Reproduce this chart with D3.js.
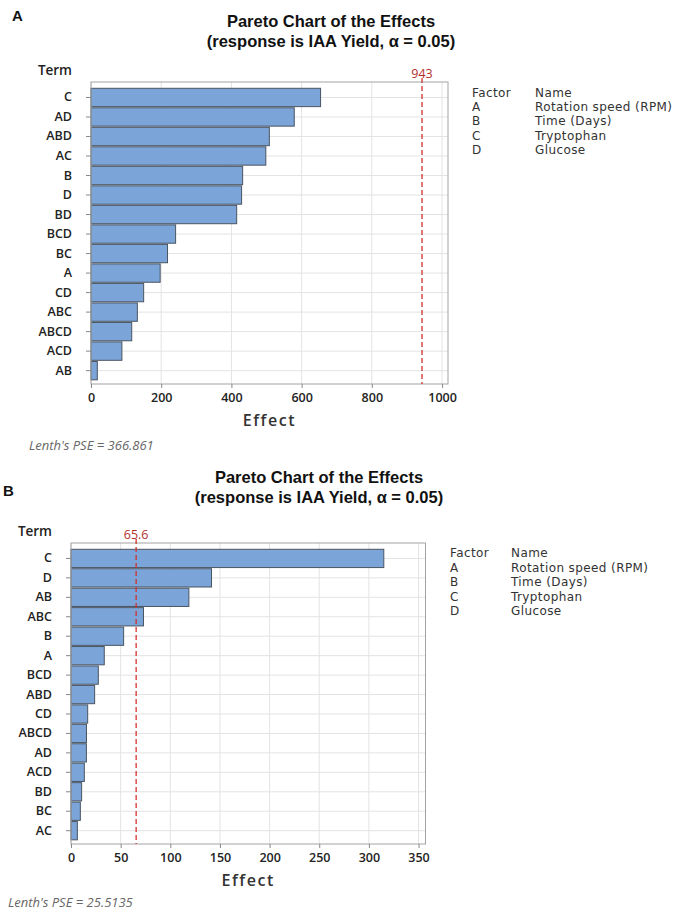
<!DOCTYPE html>
<html>
<head>
<meta charset="utf-8">
<script src="https://cdn.jsdelivr.net/npm/d3@7"></script>
<style>
  body { margin: 0; background: #fff; }
  svg { display: block; }
  .tick text { font-family: "Open Sans", sans-serif; }
</style>
</head>
<body>
<div id="chart"></div>
<script>
// Chart A values
const termsA = ["C", "AD", "ABD", "AC", "B", "D", "BD", "BCD", "BC", "A", "CD", "ABC", "ABCD", "ACD", "AB"];
const effectsA = [654, 579, 508, 498, 432, 429, 415, 241, 218, 197, 150, 132, 116, 88, 18];
const ticksA = [0, 200, 400, 600, 800, 1000];
const refA = 943;
const refLabelA = "943";
const pseA = "Lenth's PSE = 366.861";

// Chart B values
const termsB = ["C", "D", "AB", "ABC", "B", "A", "BCD", "ABD", "CD", "ABCD", "AD", "ACD", "BD", "BC", "AC"];
const effectsB = [315, 141.5, 118.7, 73, 53, 33.5, 27.5, 23.8, 16.8, 15.6, 15.5, 13.4, 10.7, 9.4, 6.4];
const ticksB = [0, 50, 100, 150, 200, 250, 300, 350];
const refB = 65.6;
const refLabelB = "65.6";
const pseB = "Lenth's PSE = 25.5135";

// Shared legend
const factors = ["A", "B", "C", "D"];
const factorNames = ["Rotation speed (RPM)", "Time (Days)", "Tryptophan", "Glucose"];
const titleLine1 = "Pareto Chart of the Effects";
const titleLine2 = "(response is IAA Yield, \u03b1 = 0.05)";

const svg = d3.select('#chart')
    .append('svg')
    .attr('width', 676)
    .attr('height', 911);

svg.append('rect').attr('width', 676).attr('height', 911).attr('fill', '#fff');

function drawPareto(cfg) {
    const g = svg.append('g');

    // panel letter and title
    g.append('text')
        .attr('x', cfg.letterX).attr('y', cfg.letterY)
        .style('font-family', '"Liberation Sans", Arial, sans-serif')
        .style('font-weight', 'bold').style('font-size', '15px')
        .attr('fill', '#111')
        .text(cfg.letter);
    [titleLine1, titleLine2].forEach((t, i) => {
        g.append('text')
            .attr('x', cfg.titleX).attr('y', cfg.titleY + i * 19.5)
            .attr('text-anchor', 'middle')
            .style('font-family', '"Liberation Sans", Arial, sans-serif')
            .style('font-weight', 'bold').style('font-size', '16.5px')
            .attr('fill', '#111')
            .text(t);
    });

    const x = d3.scaleLinear()
        .domain([0, cfg.xMax])
        .range([cfg.left, cfg.right]);
    const y = d3.scaleBand()
        .domain(cfg.terms)
        .range([cfg.top + 5.7, cfg.bottom - 3.6])
        .paddingInner(0.06)
        .paddingOuter(0.03);

    // gridlines
    g.append('g')
        .selectAll('line')
        .data(cfg.ticks)
        .enter()
        .append('line')
        .attr('x1', d => x(d)).attr('x2', d => x(d))
        .attr('y1', cfg.top).attr('y2', cfg.bottom)
        .attr('stroke', '#e3e3e3');
    g.append('g')
        .selectAll('line')
        .data(cfg.terms)
        .enter()
        .append('line')
        .attr('x1', cfg.left).attr('x2', cfg.right)
        .attr('y1', d => y(d) + y.bandwidth() / 2)
        .attr('y2', d => y(d) + y.bandwidth() / 2)
        .attr('stroke', '#e3e3e3');

    // bars
    g.append('g')
        .selectAll('rect')
        .data(cfg.effects)
        .enter()
        .append('rect')
        .attr('x', x(0))
        .attr('y', (d, i) => y(cfg.terms[i]))
        .attr('width', d => x(d) - x(0))
        .attr('height', y.bandwidth())
        .attr('fill', '#7ba4d8')
        .attr('stroke', '#4a5562')
        .attr('stroke-width', 1);

    // plot frame
    g.append('rect')
        .attr('x', cfg.left).attr('y', cfg.top)
        .attr('width', cfg.right - cfg.left)
        .attr('height', cfg.bottom - cfg.top)
        .attr('fill', 'none')
        .attr('stroke', '#a3a3a3');

    // reference line
    g.append('line')
        .attr('x1', x(cfg.ref)).attr('x2', x(cfg.ref))
        .attr('y1', cfg.top - 4).attr('y2', cfg.bottom)
        .attr('stroke', '#d2322d')
        .attr('stroke-width', 1.3)
        .attr('stroke-dasharray', '5,3');
    g.append('text')
        .attr('x', x(cfg.ref)).attr('y', cfg.top - 4)
        .attr('text-anchor', 'middle')
        .style('font-family', '"Open Sans", sans-serif')
        .style('font-size', '12.5px')
        .attr('fill', '#b3302c')
        .text(cfg.refLabel);

    // axes
    const xAxis = g.append('g')
        .attr('transform', `translate(0, ${cfg.bottom})`)
        .call(d3.axisBottom(x).tickValues(cfg.ticks).tickSize(4).tickPadding(5).tickFormat(d3.format('d')));
    xAxis.select('.domain').remove();
    xAxis.selectAll('line').attr('stroke', '#888');
    xAxis.selectAll('text').attr('fill', '#222').style('font-size', '12.5px').style('font-weight', 600);

    const yAxis = g.append('g')
        .attr('transform', `translate(${cfg.left}, 0)`)
        .call(d3.axisLeft(y).tickSize(5).tickPadding(14));
    yAxis.select('.domain').remove();
    yAxis.selectAll('line').attr('stroke', '#888');
    yAxis.selectAll('text').attr('fill', '#222').style('font-size', '12.5px').style('font-weight', 600);

    g.append('text')
        .attr('x', cfg.left - 19).attr('y', cfg.top - 7.5)
        .attr('text-anchor', 'end')
        .style('font-family', '"Open Sans", sans-serif')
        .style('font-size', '13.5px').style('font-weight', 600)
        .attr('fill', '#222')
        .text('Term');

    g.append('text')
        .attr('x', (cfg.left + cfg.right) / 2).attr('y', cfg.bottom + 42)
        .attr('text-anchor', 'middle')
        .style('font-family', '"Open Sans", sans-serif')
        .style('font-size', '16px').style('font-weight', 600)
        .style('letter-spacing', '1.6px')
        .attr('fill', '#333')
        .text('Effect');

    g.append('text')
        .attr('x', cfg.pseX).attr('y', cfg.bottom + cfg.pseDy)
        .style('font-family', '"Open Sans", sans-serif')
        .style('font-size', '13px').style('font-style', 'italic')
        .attr('fill', '#666')
        .text(cfg.pse);

    // factor legend
    const leg = g.append('g')
        .style('font-family', '"DejaVu Sans", sans-serif')
        .style('font-size', '12px')
        .style('letter-spacing', '0.4px')
        .attr('fill', '#333');
    leg.append('text').attr('x', cfg.legX).attr('y', cfg.legY).text('Factor');
    leg.append('text').attr('x', cfg.legX + cfg.legGap).attr('y', cfg.legY).text('Name');
    factors.forEach((f, i) => {
        leg.append('text').attr('x', cfg.legX).attr('y', cfg.legY + (i + 1) * cfg.legStep).text(f);
        leg.append('text').attr('x', cfg.legX + cfg.legGap).attr('y', cfg.legY + (i + 1) * cfg.legStep).text(factorNames[i]);
    });
}

drawPareto({
    letter: 'A', letterX: 12, letterY: 21,
    titleX: 331, titleY: 27,
    terms: termsA, effects: effectsA, ticks: ticksA, xMax: 1017,
    ref: refA, refLabel: refLabelA, pse: pseA,
    left: 91, right: 448, top: 82, bottom: 384,
    pseX: 29, pseDy: 66,
    legX: 472, legY: 97, legGap: 63, legStep: 14.2
});

drawPareto({
    letter: 'B', letterX: 3, letterY: 496,
    titleX: 319, titleY: 483,
    terms: termsB, effects: effectsB, ticks: ticksB, xMax: 357,
    ref: refB, refLabel: refLabelB, pse: pseB,
    left: 71, right: 425.5, top: 543, bottom: 844,
    pseX: 8, pseDy: 63,
    legX: 450, legY: 557, legGap: 61, legStep: 14.5
});
</script>
</body>
</html>
